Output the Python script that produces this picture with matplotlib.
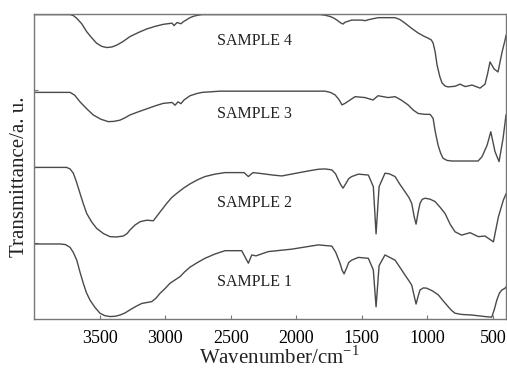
import matplotlib
matplotlib.use("Agg")
import matplotlib.pyplot as plt

plt.rcParams['font.family'] = ['Liberation Serif', 'DejaVu Serif']
plt.rcParams['mathtext.fontset'] = 'custom'
plt.rcParams['mathtext.rm'] = 'Liberation Serif'

# FTIR spectra (wavenumber in cm-1, transmittance in a.u.)
wn_s4 = [4000, 3725, 3700, 3674, 3636, 3598, 3560, 3522, 3484, 3445, 3405, 3369,
         3320, 3268, 3200, 3140, 3080, 3016, 2947, 2932, 2909, 2879, 2860, 2810,
         2780, 2750, 2718, 1818, 1780, 1742, 1715, 1689, 1665, 1643, 1628, 1577,
         1498, 1475, 1452, 1376, 1246, 1210, 1170, 1120, 1071, 1030, 995, 970, 956,
         940, 926, 905, 888, 865, 842, 789, 750, 712, 659, 598, 560, 540, 522, 491,
         461, 430, 407, 400]
t_s4 = [99.8, 99.8, 99.5, 98.6, 96.8, 94.2, 92.2, 90.4, 89.4, 89.0, 89.2, 89.8,
        91.0, 92.6, 94.0, 95.1, 95.9, 96.6, 97.0, 96.2, 97.2, 96.8, 97.5, 98.8,
        99.3, 99.6, 99.8, 99.8, 99.6, 99.2, 98.7, 98.0, 97.2, 96.7, 97.3, 98.0,
        98.0, 97.8, 98.1, 98.8, 98.8, 98.2, 97.0, 95.3, 93.8, 92.8, 92.1, 91.5, 90.5,
        87.5, 83.3, 79.5, 77.4, 76.4, 76.1, 76.3, 77.0, 76.2, 76.7, 75.7, 77.0, 80.5,
        84.3, 82.0, 81.0, 87.5, 91.5, 93.0]

wn_s3 = [4000, 3725, 3690, 3649, 3600, 3548, 3490, 3433, 3390, 3344, 3305, 3268,
         3200, 3140, 3075, 3014, 2947, 2924, 2902, 2879, 2856, 2810, 2760, 2718,
         2581, 1780, 1740, 1704, 1675, 1651, 1628, 1551, 1475, 1414, 1376, 1299,
         1246, 1200, 1147, 1110, 1071, 1020, 979, 956, 940, 918, 898, 880, 850, 811,
         613, 583, 544, 516, 484, 453, 422, 400]
t_s3 = [74.3, 74.3, 73.4, 71.2, 69.0, 66.9, 65.5, 64.7, 64.8, 65.2, 66.0, 66.9,
        68.0, 68.9, 69.9, 70.7, 71.0, 70.1, 71.2, 70.6, 71.8, 73.2, 73.9, 74.3,
        74.7, 74.7, 74.3, 73.5, 72.0, 70.2, 70.7, 72.9, 72.6, 71.8, 73.2, 72.6,
        72.9, 71.8, 70.2, 68.6, 67.4, 67.1, 67.1, 65.8, 61.5, 57.0, 54.3, 52.7, 52.0, 51.8,
        51.8, 53.2, 57.0, 61.4, 54.9, 51.6, 59.3, 66.9]

wn_s2 = [4000, 3751, 3725, 3700, 3675, 3649, 3624, 3598, 3560, 3522, 3470, 3420,
         3370, 3319, 3290, 3268, 3230, 3191, 3140, 3090, 3040, 2988, 2950, 2911,
         2860, 2810, 2750, 2696, 2620, 2543, 2398, 2365, 2330, 2250, 2180, 2110,
         2000, 1900, 1831, 1780, 1729, 1700, 1679, 1660, 1643, 1620, 1600, 1577,
         1526, 1450, 1412, 1391, 1368, 1323, 1290, 1246, 1210, 1170, 1140, 1119,
         1100, 1086, 1070, 1056, 1040, 1017, 980, 941, 900, 865, 825, 789, 738,
         674, 611, 560, 496, 458, 420, 400]
t_s2 = [49.7, 49.7, 49.2, 47.8, 44.8, 41.2, 37.8, 34.6, 31.8, 29.7, 28.0, 27.0,
        26.9, 27.2, 28.0, 29.2, 30.8, 31.9, 32.4, 32.2, 35.0, 37.9, 39.8, 41.2,
        42.9, 44.3, 45.7, 46.7, 47.5, 48.0, 48.0, 46.7, 48.0, 47.6, 47.2, 46.9,
        47.8, 48.6, 49.1, 49.2, 48.9, 47.6, 45.6, 44.0, 42.9, 44.5, 46.0, 46.7,
        47.5, 47.2, 43.4, 27.9, 43.4, 47.8, 47.6, 46.7, 44.2, 41.7, 39.8, 37.9,
        33.5, 31.1, 35.0, 37.9, 39.2, 39.6, 39.3, 38.5, 36.5, 34.6, 31.0, 28.6, 27.5,
        28.3, 27.0, 27.2, 25.3, 33.5, 39.0, 41.0]

wn_s1 = [4000, 3802, 3760, 3725, 3700, 3674, 3650, 3624, 3600, 3573, 3535, 3497,
         3460, 3420, 3380, 3344, 3305, 3268, 3220, 3178, 3140, 3102, 3070, 3039,
         3000, 2963, 2925, 2886, 2850, 2810, 2750, 2696, 2620, 2543, 2416, 2365,
         2339, 2307, 2213, 2034, 1831, 1729, 1700, 1666, 1650, 1635, 1615, 1600,
         1577, 1526, 1450, 1412, 1391, 1368, 1323, 1246, 1210, 1170, 1140, 1119,
         1100, 1086, 1070, 1056, 1030, 1005, 960, 916, 880, 840, 815, 789, 740,
         661, 600, 560, 509, 490, 470, 450, 432, 407, 400]
t_s1 = [24.6, 24.6, 24.4, 23.5, 21.8, 19.3, 15.5, 11.7, 8.6, 6.2, 3.8, 1.9,
        1.1, 0.8, 0.9, 1.3, 2.0, 3.0, 4.2, 5.1, 5.4, 5.7, 6.8, 8.4,
        10.0, 11.7, 12.8, 13.9, 15.5, 17.0, 18.6, 19.9, 21.3, 22.4, 22.4, 18.3,
        21.0, 20.7, 22.1, 22.9, 24.3, 23.9, 22.0, 18.3, 16.0, 14.8, 16.8, 18.5,
        19.3, 20.2, 19.9, 16.1, 4.0, 17.5, 21.0, 19.3, 17.0, 14.4, 12.5, 11.1,
        7.5, 4.9, 7.5, 9.5, 10.2, 10.1, 9.2, 7.9, 6.0, 4.0, 2.8, 1.9, 1.5,
        1.3, 1.0, 0.8, 0.6, 3.0, 6.2, 8.5, 9.5, 10.1, 10.5]

labels = ["SAMPLE 4", "SAMPLE 3", "SAMPLE 2", "SAMPLE 1"]
label_y = [91.1, 67.2, 38.1, 12.2]
label_x = 2322

x_ticks = [3500, 3000, 2500, 2000, 1500, 1000, 500]

fig = plt.figure(figsize=(5.07, 3.71), dpi=100)
ax = fig.add_axes([34 / 507, 52 / 371, 472 / 507, 305 / 371])

line_color = '#4a4a4a'
for wn, t in [(wn_s4, t_s4), (wn_s3, t_s3), (wn_s2, t_s2), (wn_s1, t_s1)]:
    ax.plot(wn, t, color=line_color, lw=1.0)

for lab, ly in zip(labels, label_y):
    ax.text(label_x, ly, lab, ha='center', va='center', fontsize=11.5, color='#222222')

ax.set_xlim(4000, 400)
ax.set_ylim(0, 100)
ax.set_xticks(x_ticks)
ax.set_yticks([25, 50, 75])
ax.set_yticklabels([])
ax.tick_params(axis='both', direction='in', length=3, width=0.8, color='#777777',
               labelsize=13, pad=8)

for sp in ax.spines.values():
    sp.set_color('#777777')
    sp.set_linewidth(1.0)

ax.set_xlabel("Wavenumber/cm$^{-1}$", fontsize=15, va='center', color='#222222')
ax.xaxis.set_label_coords(0.519, -0.125)
ax.set_ylabel("Transmittance/a. u.", fontsize=15, va='center', color='#222222')
ax.yaxis.set_label_coords(-0.030, 0.467)

fig.savefig("out.png", dpi=100)
